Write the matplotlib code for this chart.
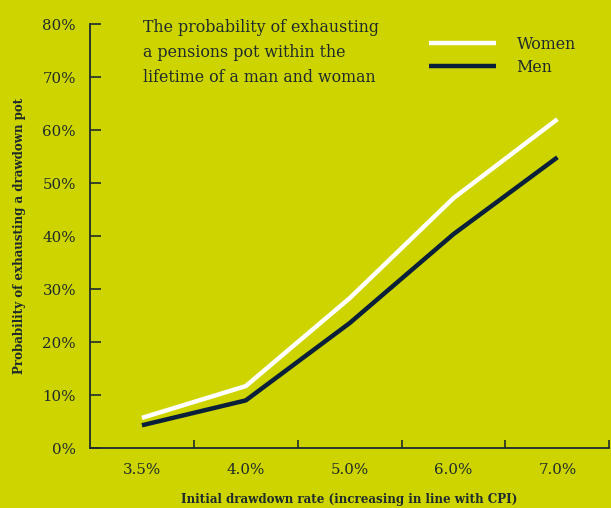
import matplotlib.pyplot as plt
from matplotlib.ticker import FuncFormatter, FixedLocator

# data
rates = ['3.5%', '4.0%', '5.0%', '6.0%', '7.0%']
women = [5.7, 11.7, 28.3, 47.2, 62.1]
men = [4.3, 9.0, 23.6, 40.4, 54.9]

bg = '#cdd400'
dark = '#0a1f3a'
txt = '#1f2b2b'

plt.rcParams['font.family'] = ['DejaVu Serif']

fig = plt.figure(figsize=(6.11, 5.08), dpi=100, facecolor=bg)
ax = fig.add_axes([0.1473, 0.118, 0.85, 0.834])
ax.set_facecolor(bg)

x = list(range(len(rates)))
ax.plot(x, women, color='white', lw=3.2, solid_capstyle='butt', label='Women')
ax.plot(x, men, color=dark, lw=3.2, solid_capstyle='butt', label='Men')

ax.set_xlim(-0.5, len(rates) - 0.5)
ax.set_ylim(0, 80)

ax.yaxis.set_major_locator(FixedLocator(range(0, 81, 10)))
ax.yaxis.set_major_formatter(FuncFormatter(lambda v, p: f'{v:.0f}%'))
ax.tick_params(axis='y', direction='in', length=8, width=1.2, color='#1f2b2b',
               labelsize=10.8, labelcolor=txt, pad=10)

# category labels centered, tick marks between categories
ax.set_xticks([i + 0.5 for i in x])
ax.set_xticklabels([])
ax.set_xticks(x, minor=True)
ax.set_xticklabels(rates, minor=True)
ax.tick_params(axis='x', which='major', direction='in', length=6, width=1.2, color='#1f2b2b')
ax.tick_params(axis='x', which='minor', length=0, labelsize=10.8, labelcolor=txt, pad=11)

for s in ['top', 'right']:
    ax.spines[s].set_visible(False)
for s in ['left', 'bottom']:
    ax.spines[s].set_color('#1f2b2b')
    ax.spines[s].set_linewidth(1.3)

ax.set_xlabel('Initial drawdown rate (increasing in line with CPI)', fontsize=8.6,
              fontweight='bold', color=txt, labelpad=11)
ax.set_ylabel('Probability of exhausting a drawdown pot', fontsize=8.6,
              fontweight='bold', color=txt, labelpad=12)

fig.text(143 / 611, 1 - 19 / 508,
         'The probability of exhausting\na pensions pot within the\nlifetime of a man and woman',
         fontsize=11.4, color=txt, va='top', ha='left', linespacing=1.6)

leg = ax.legend(loc='upper left', bbox_to_anchor=((421 - 90) / 521, 0.995),
                frameon=False, fontsize=11.4, handlelength=4.2, handletextpad=1.3,
                labelspacing=0.35, borderaxespad=0.2)
for t in leg.get_texts():
    t.set_color(txt)

fig.savefig('out.png', dpi=100, facecolor=bg)
